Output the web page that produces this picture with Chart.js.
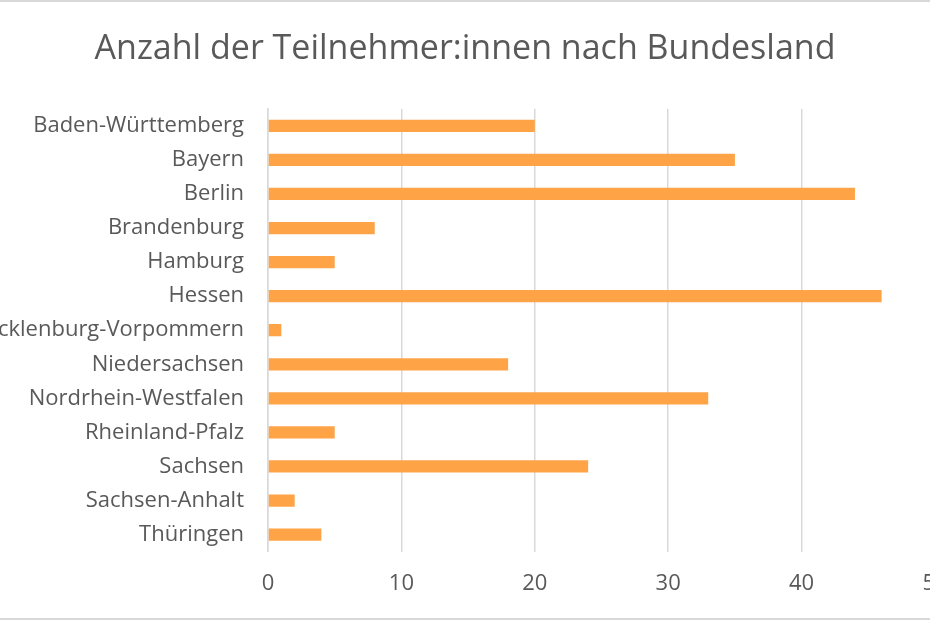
<!DOCTYPE html>
<html>
<head>
<meta charset="utf-8">
<script src="https://cdn.jsdelivr.net/npm/chart.js@4"></script>
<style>
  html, body { margin: 0; padding: 0; background: #fff; overflow: hidden; }
  #frame { position: relative; width: 930px; height: 620px; overflow: hidden; box-sizing: border-box;
           border-top: 2px solid #d9d9d9; border-bottom: 2px solid #d9d9d9; }
  #wrap { position: absolute; left: -30px; top: -2px; width: 990px; height: 620px; }
</style>
</head>
<body>
<div id="frame"><div id="wrap"><canvas id="chart"></canvas></div></div>
<script>
const bundeslaender = [
    "Baden-Württemberg", "Bayern", "Berlin", "Brandenburg", "Hamburg", "Hessen",
    "Mecklenburg-Vorpommern", "Niedersachsen", "Nordrhein-Westfalen", "Rheinland-Pfalz",
    "Sachsen", "Sachsen-Anhalt", "Thüringen"
];
const teilnehmer = [20, 35, 44, 8, 5, 46, 1, 18, 33, 5, 24, 2, 4];
const xTicks = [0, 10, 20, 30, 40, 50];

const fontFamily = "'Open Sans', 'Noto Sans', sans-serif";
const textColor = '#595959';

const config = {
    type: 'bar',
    data: {
        labels: bundeslaender,
        datasets: [{
            label: 'Teilnehmer:innen',
            data: teilnehmer,
            backgroundColor: '#ffa347',
            borderWidth: 0,
            barPercentage: 0.72,
            categoryPercentage: 0.5
        }]
    },
    options: {
        indexAxis: 'y',
        responsive: true,
        maintainAspectRatio: false,
        animation: false,
        layout: { padding: { top: 29, right: 25, bottom: 4, left: 25 } },
        plugins: {
            legend: { display: false },
            tooltip: { enabled: false },
            title: {
                display: true,
                text: 'Anzahl der Teilnehmer:innen nach Bundesland',
                color: textColor,
                font: { family: fontFamily, size: 34, weight: 'normal' },
                padding: { top: 0, bottom: 39 }
            }
        },
        scales: {
            x: {
                min: xTicks[0],
                max: xTicks[xTicks.length - 1],
                afterBuildTicks: (scale) => { scale.ticks = xTicks.map(v => ({ value: v })); },
                // let the "50" label run off the edge like in the original
                afterFit: (scale) => { scale.paddingLeft = 0; scale.paddingRight = 0; },
                grid: { color: '#d9d9d9', lineWidth: 1.5, drawTicks: false },
                border: { display: false },
                ticks: {
                    color: textColor,
                    font: { family: fontFamily, size: 22 },
                    padding: 19
                }
            },
            y: {
                grid: { display: false },
                border: { color: '#d9d9d9', width: 1.5 },
                afterFit: (scale) => { scale.width = 273; },
                ticks: {
                    color: textColor,
                    font: { family: fontFamily, size: 22 },
                    padding: 16,
                    autoSkip: false
                }
            }
        }
    }
};

new Chart(document.getElementById('chart'), config);
</script>
</body>
</html>
